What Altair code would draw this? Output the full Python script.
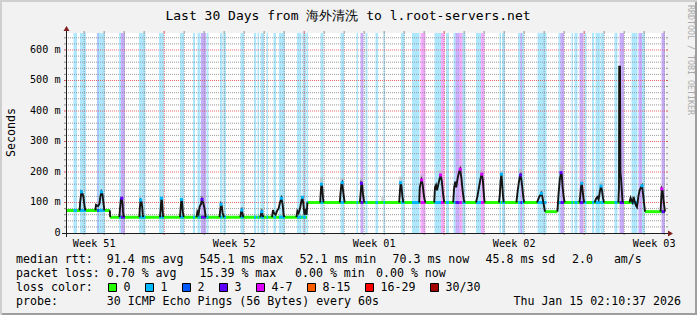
from datetime import datetime, timedelta
import altair as alt
import pandas as pd

FONT = "DejaVu Sans Mono"
OX, OY = 66, 33          # plot origin inside the 697x315 page
PW, PH = 600, 200        # plot area
NB = "\u00a0"

# ---------------- text ----------------
TITLE = "Last 30 Days from 海外清洗 to l.root-servers.net"
Y_TITLE = "Seconds"
WATERMARK = "RRDTOOL / TOBI OETIKER"
STAMP = "Thu Jan 15 02:10:37 2026"
START = datetime(2025, 12, 16, 2, 10, 37)
week_labels = ["Week 51", "Week 52", "Week 01", "Week 02", "Week 03"]
y_tick_values = [0, 100, 200, 300, 400, 500, 600]
y_tick_labels = ["0  ", "100 m", "200 m", "300 m", "400 m", "500 m", "600 m"]

legend_rtt = ["median rtt:  91.4 ms avg", "545.1 ms max", "52.1 ms min",
              "70.3 ms now", "45.8 ms sd", "2.0   am/s"]
legend_loss = ["packet loss: 0.70 % avg", "15.39 % max", "0.00 % min", "0.00 % now"]
legend_color_title = "loss color:"
probe_text = "probe:       30 ICMP Echo Pings (56 Bytes) every 60s"

loss_labels = ["0", "1", "2", "3", "4-7", "8-15", "16-29", "30/30"]
loss_colors = ["#26ff00", "#00b8ff", "#0059ff", "#5e00ff", "#dd00ff",
               "#ff5e00", "#ff0000", "#a00000"]

# ---------------- loss background bands (days since start) ----------------
band_start = [0.375, 0.70, 1.55, 1.65, 2.65, 2.75, 3.65, 4.65, 5.70, 6.35,
              6.575, 6.75, 7.025, 7.70, 7.875, 8.725, 9.40, 9.575, 9.725, 10.025,
              10.375, 10.65, 11.55, 11.825, 12.025, 12.725, 13.725, 14.525, 14.725, 14.975,
              15.475, 15.875, 16.75, 17.30, 17.725, 18.425, 18.75, 19.00, 19.375, 19.475,
              19.675, 19.825, 20.50, 20.75, 21.675, 21.80, 22.60, 22.725, 22.80, 23.575,
              24.625, 24.725, 25.275, 25.425, 25.675, 25.925, 26.30, 26.475, 26.725, 27.425,
              27.675, 28.275, 28.625, 28.80, 29.775]
band_end = [0.55, 1.00, 1.65, 1.95, 2.75, 2.95, 3.975, 4.90, 5.90, 6.45,
            6.725, 7.00, 7.125, 7.825, 8.00, 8.90, 9.50, 9.65, 9.90, 10.10,
            10.50, 10.95, 11.775, 12.00, 12.10, 12.875, 13.90, 14.60, 14.875, 15.075,
            15.60, 15.95, 16.925, 17.675, 17.975, 18.75, 18.925, 19.15, 19.475, 19.675,
            19.825, 19.975, 20.75, 20.925, 21.75, 21.95, 22.725, 22.80, 22.90, 24.025,
            24.725, 24.90, 25.35, 25.575, 25.875, 26.025, 26.40, 26.70, 26.90, 27.575,
            27.90, 28.575, 28.80, 28.95, 29.95]
band_loss = ["1", "1", "2", "1", "1", "3", "1", "1", "1", "1",
             "1", "3", "1", "1", "1", "1", "1", "1", "1", "1",
             "1", "1", "1", "1", "1", "1", "1", "1", "3", "1",
             "1", "1", "1", "1", "4-7", "1", "4-7", "1", "1", "3",
             "4-7", "1", "1", "4-7", "1", "1", "1", "3", "1", "1",
             "1", "3", "1", "1", "3", "1", "1", "1", "1", "1",
             "3", "1", "3", "1", "3"]

# ---------------- median baseline (ms) ----------------
base_start = [0.0, 2.2, 12.05, 23.95, 24.6, 28.95]
base_end = [2.2, 12.05, 23.95, 24.57, 28.5, 29.95]
base_ms = [74, 52, 100, 70, 100, 70]

# ---------------- median excursions (days, ms) ----------------
peak_days = [
    [0.68, 0.71, 0.77, 0.82, 0.87, 0.93, 0.97],
    [1.47, 1.50, 1.60, 1.67, 1.72, 1.77, 1.82, 1.87, 1.92],
    [2.19, 2.21],
    [2.67, 2.70, 2.75, 2.79, 2.83, 2.85, 2.89],
    [3.67, 3.69, 3.73, 3.77, 3.81, 3.84, 3.86],
    [4.70, 4.73, 4.77, 4.80, 4.83, 4.86],
    [5.70, 5.73, 5.77, 5.80, 5.84, 5.88],
    [6.53, 6.57, 6.63, 6.68, 6.75, 6.80, 6.85, 6.91, 6.95, 6.98],
    [7.68, 7.71, 7.75, 7.79, 7.83, 7.87, 7.90],
    [8.72, 8.75, 8.79, 8.83, 8.87],
    [9.72, 9.75, 9.79, 9.83, 9.87],
    [10.30, 10.35, 10.41, 10.48, 10.55, 10.63, 10.70, 10.77, 10.83, 10.88, 10.92],
    [11.52, 11.57, 11.63, 11.70, 11.77, 11.82, 11.87, 11.92, 11.98, 12.03, 12.07],
    [12.71, 12.74, 12.77, 12.81, 12.85, 12.88],
    [13.69, 13.72, 13.77, 13.81, 13.85, 13.90, 13.93],
    [14.69, 14.72, 14.77, 14.81, 14.85, 14.90, 14.93],
    [16.66, 16.69, 16.73, 16.77, 16.82, 16.87],
    [17.66, 17.69, 17.74, 17.78, 17.83, 17.88, 17.93, 17.97],
    [18.41, 18.45, 18.50, 18.55, 18.60, 18.67, 18.73, 18.79, 18.85, 18.91],
    [19.36, 19.41, 19.46, 19.51, 19.57, 19.65, 19.71, 19.77, 19.83, 19.89, 19.93],
    [20.50, 20.57, 20.65, 20.73, 20.79, 20.84, 20.89, 20.93],
    [21.65, 21.69, 21.73, 21.77, 21.81, 21.85, 21.89],
    [22.52, 22.57, 22.63, 22.69, 22.73, 22.78, 22.83, 22.87, 22.91],
    [23.55, 23.61, 23.67, 23.73, 23.77, 23.82, 23.87, 23.91, 23.95],
    [24.57, 24.60, 24.63, 24.69, 24.75, 24.79, 24.83, 24.88, 24.93],
    [25.67, 25.71, 25.75, 25.79, 25.83, 25.87, 25.91],
    [26.43, 26.50, 26.57, 26.63, 26.69, 26.75, 26.80, 26.85, 26.90],
    [27.62, 27.65, 27.66, 27.70, 27.72, 27.75, 27.79, 27.83],
    [28.17, 28.23, 28.27, 28.33, 28.38, 28.43, 28.50, 28.55, 28.62, 28.68, 28.75,
     28.80, 28.85, 28.90, 28.95],
    [29.73, 29.76, 29.79, 29.83, 29.87, 29.91, 29.95],
]
peak_ms = [
    [74, 103, 135, 130, 119, 86, 74],
    [74, 92, 88, 95, 120, 135, 128, 100, 74],
    [74, 52],
    [52, 80, 112, 114, 95, 70, 52],
    [52, 80, 108, 104, 85, 60, 52],
    [52, 75, 114, 105, 75, 52],
    [52, 80, 110, 105, 70, 52],
    [52, 70, 62, 86, 95, 110, 100, 86, 70, 52],
    [52, 75, 94, 88, 65, 58, 52],
    [52, 68, 75, 62, 52],
    [52, 62, 70, 60, 52],
    [52, 75, 64, 60, 72, 80, 100, 114, 95, 60, 52],
    [52, 72, 65, 80, 105, 117, 95, 60, 72, 60, 100],
    [100, 135, 160, 150, 115, 100],
    [100, 125, 160, 165, 140, 115, 100],
    [100, 120, 163, 158, 125, 105, 100],
    [100, 130, 165, 155, 120, 100],
    [100, 150, 165, 174, 160, 130, 110, 100],
    [100, 150, 157, 140, 155, 175, 190, 170, 130, 100],
    [100, 150, 168, 150, 175, 200, 209, 180, 140, 110, 100],
    [100, 120, 150, 180, 193, 175, 130, 100],
    [100, 125, 170, 193, 160, 120, 100],
    [100, 130, 160, 185, 190, 170, 140, 115, 100],
    [100, 110, 120, 125, 130, 118, 100, 85, 70],
    [70, 100, 130, 175, 198, 190, 150, 120, 100],
    [100, 120, 150, 163, 140, 115, 100],
    [100, 112, 118, 110, 135, 154, 140, 115, 100],
    [100, 150, 545, 545, 200, 180, 140, 100],
    [100, 115, 108, 100, 118, 105, 90, 85, 120, 140, 150, 155, 130, 100, 70],
    [70, 110, 145, 140, 110, 90, 70],
]
peak_tip_loss = ["1", "1", "", "3", "1", "1", "1", "3", "1", "1",
                 "1", "1", "1", "1", "1", "3", "1", "4-7", "4-7", "4-7",
                 "4-7", "1", "3", "1", "3", "1", "1", "", "1", "4-7"]

# ---------------- smoke (spread of the pings around the peaks) ----------------
smoke_day = [0.77, 1.77, 2.79, 3.73, 4.77, 5.77, 6.80, 7.75, 8.79, 9.79,
             10.77, 11.82, 12.77, 13.81, 14.77, 15.83, 16.73, 17.78, 18.73, 19.71,
             20.79, 21.77, 22.73, 23.77, 24.75, 25.79, 26.75, 27.70, 28.80, 29.79]
smoke_lo = [130, 130, 110, 105, 110, 105, 105, 90, 72, 68,
            110, 112, 155, 160, 158, 100, 160, 170, 185, 205,
            190, 190, 185, 125, 195, 160, 150, 190, 150, 140]
smoke_hi = [140, 142, 118, 112, 118, 114, 114, 98, 85, 80,
            120, 122, 182, 180, 180, 118, 185, 192, 205, 222,
            208, 205, 210, 140, 225, 175, 168, 215, 165, 155]

# ---------------- grid positions derived from the time span ----------------
def day_of(dt):
    return (dt - START).total_seconds() / 86400.0

x_minor = [day_of(datetime(2025, 12, 17) + timedelta(days=k)) for k in range(30)]
x_major = [day_of(datetime(2025, 12, 21) + timedelta(days=7 * k)) for k in range(4)]
x_minor = [v for v in x_minor if all(abs(v - m) > 1e-6 for m in x_major)]
week_centers = [day_of(datetime(2025, 12, 14) + timedelta(days=7 * k)) + 3.5 for k in range(5)]
y_major = [100, 200, 300, 400, 500, 600]
y_minor = [v for v in range(20, 656, 20) if v % 100]

# ---------------- frames ----------------
bands_df = pd.DataFrame({"s": band_start, "e": band_end, "loss": band_loss})

base_rows = []
for i, (s, e, lv) in enumerate(zip(base_start, base_end, base_ms)):
    base_rows += [{"seg": i, "k": 0, "day": s, "ms": lv}, {"seg": i, "k": 1, "day": e, "ms": lv}]
base_df = pd.DataFrame(base_rows)

def level_at(d):
    for s, e, lv in zip(base_start, base_end, base_ms):
        if s <= d <= e:
            return lv
    return None

lossline_rows = []
for s, e, l in zip(band_start, band_end, band_loss):
    lv = level_at((s + e) / 2)
    if lv is not None:
        lossline_rows.append({"s": s, "e": e, "ms": lv, "loss": l})
lossline_df = pd.DataFrame(lossline_rows)

peak_rows, tip_rows = [], []
for pid, (ds, ms) in enumerate(zip(peak_days, peak_ms)):
    for k, (d, m) in enumerate(zip(ds, ms)):
        peak_rows.append({"pid": pid, "k": k, "day": d, "ms": m})
    if peak_tip_loss[pid]:
        j = ms.index(max(ms))
        tip_rows.append({"day": ds[j], "ms": ms[j], "loss": peak_tip_loss[pid]})
peak_df = pd.DataFrame(peak_rows)
tip_df = pd.DataFrame(tip_rows)
smoke_df = pd.DataFrame({"day": smoke_day, "lo": smoke_lo, "hi": smoke_hi})

ylab_df = pd.DataFrame({"v": y_tick_values, "lab": [s.replace(" ", NB) for s in y_tick_labels]})
xlab_df = pd.DataFrame({"c": week_centers, "lab": week_labels})

# ---------------- scales ----------------
xs = alt.Scale(domain=[0, 30], nice=False, zero=False)
ys = alt.Scale(domain=[0, 655.7], nice=False, zero=False)
cs = alt.Scale(domain=loss_labels, range=loss_colors)
ONE = alt.Data(values=[{"a": 0}])

GRID_C, MGRID_C = "#8f8f8f", "#de4f4f"

layers = []
# loss bands
layers.append(alt.Chart(bands_df).mark_rect(opacity=0.32, strokeWidth=0).encode(
    x=alt.X("s:Q", scale=xs, axis=None), x2="e:Q",
    y=alt.value(0), y2=alt.value(PH),
    color=alt.Color("loss:N", scale=cs, legend=None)))

# grid
layers.append(alt.Chart(pd.DataFrame({"v": y_minor})).mark_rule(
    color=GRID_C, opacity=0.9, strokeDash=[1, 1], strokeWidth=1).encode(
    y=alt.Y("v:Q", scale=ys, axis=None), x=alt.value(0), x2=alt.value(PW)))
layers.append(alt.Chart(pd.DataFrame({"v": x_minor})).mark_rule(
    color=GRID_C, opacity=0.9, strokeDash=[1, 1], strokeWidth=1).encode(
    x=alt.X("v:Q", scale=xs, axis=None), y=alt.value(0), y2=alt.value(PH)))
layers.append(alt.Chart(pd.DataFrame({"v": y_major})).mark_rule(
    color=MGRID_C, opacity=0.85, strokeDash=[1, 1], strokeWidth=1).encode(
    y=alt.Y("v:Q", scale=ys, axis=None), x=alt.value(0), x2=alt.value(PW)))
layers.append(alt.Chart(pd.DataFrame({"v": x_major})).mark_rule(
    color=MGRID_C, opacity=0.85, strokeDash=[1, 1], strokeWidth=1).encode(
    x=alt.X("v:Q", scale=xs, axis=None), y=alt.value(0), y2=alt.value(PH)))

# smoke
layers.append(alt.Chart(smoke_df).mark_rule(color="#b4b4b4", opacity=0.55, strokeWidth=3).encode(
    x=alt.X("day:Q", scale=xs, axis=None),
    y=alt.Y("lo:Q", scale=ys, axis=None), y2="hi:Q"))

# green median baseline
layers.append(alt.Chart(base_df).mark_line(color="#26ff00", strokeWidth=3, strokeCap="butt").encode(
    x=alt.X("day:Q", scale=xs, axis=None),
    y=alt.Y("ms:Q", scale=ys, axis=None),
    detail="seg:N", order="k:Q"))

# loss-coloured parts of the median
layers.append(alt.Chart(lossline_df).mark_rule(strokeWidth=3).encode(
    x=alt.X("s:Q", scale=xs, axis=None), x2="e:Q",
    y=alt.Y("ms:Q", scale=ys, axis=None),
    color=alt.Color("loss:N", scale=cs, legend=None)))

# dark excursions
layers.append(alt.Chart(peak_df).mark_line(color="#141414", strokeWidth=1.9).encode(
    x=alt.X("day:Q", scale=xs, axis=None),
    y=alt.Y("ms:Q", scale=ys, axis=None),
    detail="pid:N", order="k:Q"))

# coloured tips
layers.append(alt.Chart(tip_df).mark_square(size=9, opacity=1).encode(
    x=alt.X("day:Q", scale=xs, axis=None),
    y=alt.Y("ms:Q", scale=ys, axis=None),
    color=alt.Color("loss:N", scale=cs, legend=None)))

# ticks on the plot edges
for vals, col in ((y_minor, GRID_C), (y_major, MGRID_C)):
    df = pd.DataFrame({"v": vals})
    for a, b in ((-2, 0), (PW, PW + 2)):
        layers.append(alt.Chart(df).mark_rule(color=col, strokeWidth=1).encode(
            y=alt.Y("v:Q", scale=ys, axis=None), x=alt.value(a), x2=alt.value(b)))
for vals, col in ((x_minor, GRID_C), (x_major, MGRID_C)):
    df = pd.DataFrame({"v": vals})
    for a, b in ((-2, 0), (PH, PH + 2)):
        layers.append(alt.Chart(df).mark_rule(color=col, strokeWidth=1).encode(
            x=alt.X("v:Q", scale=xs, axis=None), y=alt.value(a), y2=alt.value(b)))

# axis labels (through the scales)
layers.append(alt.Chart(ylab_df).mark_text(
    align="right", baseline="middle", font=FONT, fontSize=10.15, color="#000000").encode(
    y=alt.Y("v:Q", scale=ys, axis=None), x=alt.value(-5.5), text="lab:N"))
layers.append(alt.Chart(xlab_df).mark_text(
    align="center", baseline="alphabetic", font=FONT, fontSize=10.15, color="#000000").encode(
    x=alt.X("c:Q", scale=xs, axis=None), y=alt.value(PH + 13.7), text="lab:N"))

# axes lines + arrows
AXIS_C, ARROW_C = "#1f1f1f", "#7f1f1f"
layers.append(alt.Chart(ONE).mark_rule(color=AXIS_C, strokeWidth=1).encode(
    x=alt.value(-4), x2=alt.value(PW + 4), y=alt.value(PH + 0.5)))
layers.append(alt.Chart(ONE).mark_rule(color=AXIS_C, strokeWidth=1).encode(
    x=alt.value(0.5), y=alt.value(PH + 4), y2=alt.value(-4)))
layers.append(alt.Chart(ONE).mark_point(
    shape="M-0.833,-1L0.833,0L-0.833,1Z", size=36, filled=True, opacity=1,
    color=ARROW_C, strokeWidth=0).encode(x=alt.value(PW + 4.5), y=alt.value(PH + 0.5)))
layers.append(alt.Chart(ONE).mark_point(
    shape="M-1,0.833L0,-0.833L1,0.833Z", size=36, filled=True, opacity=1,
    color=ARROW_C, strokeWidth=0).encode(x=alt.value(0.5), y=alt.value(-4.5)))


def txt(s, x, y, size=11.6, align="left", baseline="alphabetic", angle=0, color="#000000"):
    return alt.Chart(alt.Data(values=[{"t": s.replace(" ", NB)}])).mark_text(
        align=align, baseline=baseline, angle=angle, font=FONT, fontSize=size,
        color=color).encode(text="t:N", x=alt.value(x - OX), y=alt.value(y - OY))


# title, unit, watermark
layers.append(txt(TITLE, 348, 19.5, size=13.0, align="center"))
layers.append(txt(Y_TITLE, 15, 132.5, size=11.6, align="center", angle=270))
layers.append(txt(WATERMARK, 690, 5, size=8.3, align="left", baseline="middle",
                  angle=90, color="#aaaaaa"))

# legend lines
L1, L2, L3, L4 = 263.3, 277.3, 291.3, 305.3
for s, x in zip(legend_rtt, [16, 199.5, 299.5, 392.5, 485.5, 572]):
    layers.append(txt(s, x, L1))
for s, x in zip(legend_loss, [16, 199.5, 295, 376]):
    layers.append(txt(s, x, L2))
layers.append(txt(legend_color_title, 16, L3))
bx = 108.5
for lab, col in zip(loss_labels, loss_colors):
    layers.append(alt.Chart(ONE).mark_rect(fill=col, stroke="#000000", strokeWidth=1).encode(
        x=alt.value(bx - OX), x2=alt.value(bx + 8 - OX),
        y=alt.value(283.5 - OY), y2=alt.value(291.5 - OY)))
    layers.append(txt(lab, bx + 15, L3))
    bx += 30 + 7 * len(lab)
layers.append(txt(probe_text, 16, L4))
layers.append(txt(STAMP, 681, L4, align="right"))

# 3-D frame of the image
TOTW, TOTH = 697, 315
layers.append(alt.Chart(ONE).mark_rule(color="#cfcfcf", strokeWidth=2).encode(
    x=alt.value(-OX), x2=alt.value(TOTW - OX), y=alt.value(1 - OY)))
layers.append(alt.Chart(ONE).mark_rule(color="#cfcfcf", strokeWidth=2).encode(
    x=alt.value(1 - OX), y=alt.value(-OY), y2=alt.value(TOTH - OY)))
layers.append(alt.Chart(ONE).mark_rule(color="#9e9e9e", strokeWidth=2).encode(
    x=alt.value(-OX + 2), x2=alt.value(TOTW - OX), y=alt.value(TOTH - 1 - OY)))
layers.append(alt.Chart(ONE).mark_rule(color="#9e9e9e", strokeWidth=2).encode(
    x=alt.value(TOTW - 1 - OX), y=alt.value(-OY + 2), y2=alt.value(TOTH - OY)))

chart = alt.layer(*layers).properties(
    width=PW, height=PH,
    padding={"left": OX, "top": OY, "right": TOTW - OX - PW, "bottom": TOTH - OY - PH},
    autosize=alt.AutoSizeParams(type="none"),
    background="#f2f2f2",
).configure_view(stroke=None, fill="#ffffff")

chart.save("out.html", embed_options={"renderer": "svg", "actions": False})
